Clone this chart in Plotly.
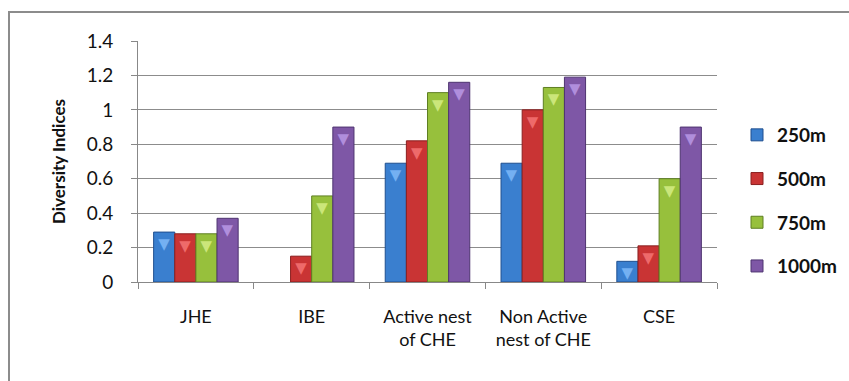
import plotly.graph_objects as go

# Habitat categories and diversity indices at each distance
categories = ["JHE", "IBE", "Active nest<br>of CHE", "Non Active<br>nest of CHE", "CSE"]
d250 = [0.29, 0.0, 0.69, 0.69, 0.12]
d500 = [0.28, 0.15, 0.82, 1.00, 0.21]
d750 = [0.28, 0.50, 1.10, 1.13, 0.60]
d1000 = [0.37, 0.90, 1.16, 1.19, 0.90]
series_names = ["250m", "500m", "750m", "1000m"]
y_ticks = [0, 0.2, 0.4, 0.6, 0.8, 1, 1.2, 1.4]

fills = ["#3A7FCF", "#C93434", "#97C03C", "#7E57A6"]
edges = ["#1F4F8F", "#8A1F1F", "#5E7F22", "#4E3470"]
bevels = ["#74B0F2", "#EE6A6A", "#CBE67A", "#B08EDC"]

W, H = 849, 381
L, R, T, B = 138, 132, 41, 99
FONT = "Lato"

fig = go.Figure()
for i, (name, vals) in enumerate(zip(series_names, [d250, d500, d750, d1000])):
    fig.add_trace(go.Bar(
        name=name, x=categories, y=vals,
        legendgroup=name,
        marker=dict(color=fills[i],
                    line=dict(color=edges[i], width=[1 if v > 0 else 0 for v in vals])),
        # bevel chevron at the top of each bar
        text=["▼" if v > 0 else "" for v in vals],
        textposition="inside", insidetextanchor="end", textangle=0,
        constraintext="none",
        textfont=dict(family="DejaVu Sans", size=15, color=bevels[i]),
        hovertemplate="%{x}: %{y}<extra>" + name + "</extra>",
    ))

# outer chart frame, in paper units derived from the pixel margins
pw, ph = W - L - R, H - T - B
def px_x(p):
    return (p - L) / pw
def px_y(p):
    return (H - B - p) / ph

fig.add_shape(type="rect", xref="paper", yref="paper",
              x0=px_x(9), x1=px_x(W + 5), y0=px_y(H + 5), y1=px_y(12),
              line=dict(color="#8c8c8c", width=2), fillcolor="rgba(0,0,0,0)",
              layer="below")

fig.update_layout(
    width=W, height=H,
    margin=dict(l=L, r=R, t=T, b=B, autoexpand=False),
    paper_bgcolor="white", plot_bgcolor="white",
    barmode="group", bargap=0.27, bargroupgap=0,
    font=dict(family=FONT, color="#111111", size=15),
    showlegend=True,
    legend=dict(
        x=px_x(737), xanchor="left", y=px_y(116), yanchor="top",
        font=dict(family=FONT, size=19, color="#111111", weight="bold"),
        tracegroupgap=16, itemwidth=30, bgcolor="rgba(0,0,0,0)",
    ),
    xaxis=dict(
        showline=True, linecolor="#888888", linewidth=1,
        ticks="outside", tickson="boundaries", ticklen=6, tickcolor="#888888",
        ticklabelstandoff=18,
        tickfont=dict(family=FONT, size=18, color="#111111"),
        showgrid=False,
    ),
    yaxis=dict(
        range=[0, 1.4], tickvals=y_ticks, ticktext=[f"{v:g}" for v in y_ticks],
        showline=True, linecolor="#888888", linewidth=1,
        ticks="outside", ticklen=6, tickcolor="#888888",
        ticklabelstandoff=14,
        showgrid=True, gridcolor="#8c8c8c", gridwidth=1,
        tickfont=dict(family=FONT, size=19, color="#111111"),
        title=dict(text="Diversity Indices", standoff=16,
                   font=dict(family=FONT, size=17, color="#111111", weight="bold")),
        zeroline=False,
    ),
)

fig.write_html("out.html")
